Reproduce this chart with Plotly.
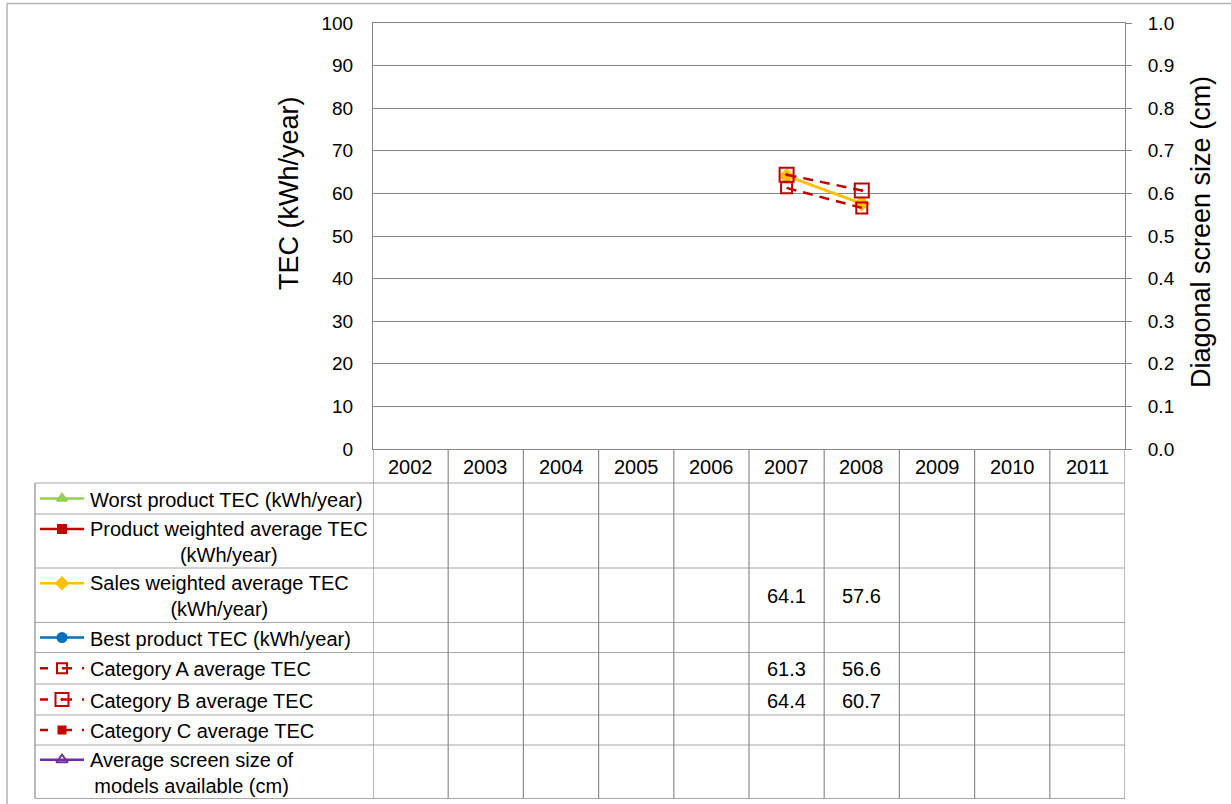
import plotly.graph_objects as go

# ---- data ----
years = [2002, 2003, 2004, 2005, 2006, 2007, 2008, 2009, 2010, 2011]
worst_tec = [None] * 10
product_avg_tec = [None] * 10
sales_avg_tec = [None, None, None, None, None, 64.1, 57.6, None, None, None]
best_tec = [None] * 10
cat_a_tec = [None, None, None, None, None, 61.3, 56.6, None, None, None]
cat_b_tec = [None, None, None, None, None, 64.4, 60.7, None, None, None]
cat_c_tec = [None] * 10
screen_size = [None] * 10

series_names = [
    "Worst product TEC (kWh/year)",
    "Product weighted average TEC<br>(kWh/year)",
    "Sales weighted average TEC<br>(kWh/year)",
    "Best product TEC (kWh/year)",
    "Category A average TEC",
    "Category B average TEC",
    "Category C average TEC",
    "Average screen size of<br>models available (cm)",
]
series_values = [worst_tec, product_avg_tec, sales_avg_tec, best_tec,
                 cat_a_tec, cat_b_tec, cat_c_tec, screen_size]
on_right_axis = [False, False, False, False, False, False, False, True]

y_title = "TEC (kWh/year)"
y2_title = "Diagonal screen size (cm)"

# ---- styling ----
W, H = 1231, 804
PL, PR, PT, PB = 373, 1125, 23, 449          # plot area in pixels
FONT = "Liberation Sans, Arial, sans-serif"
GRID = "#868686"
DARK_RED = "#C00000"
KEY_DASH = "8px,14px,10px,10px"
LINE_DASH = "10px,7px"

styles = [
    dict(color="#92D050", symbol="triangle-up", size=10, dash="solid", width=3),
    dict(color=DARK_RED, symbol="square", size=9, dash="solid", width=3),
    dict(color="#FFC000", symbol="diamond", size=10, dash="solid", width=3),
    dict(color="#0070C0", symbol="circle", size=10, dash="solid", width=3),
    dict(color=DARK_RED, symbol="square-open", size=11, dash=LINE_DASH, width=2.5),
    dict(color=DARK_RED, symbol="square-open-dot", size=14, dash=LINE_DASH, width=2.5),
    dict(color=DARK_RED, symbol="square", size=8, dash=LINE_DASH, width=2.5),
    dict(color="#7030A0", symbol="triangle-up-open", size=11, dash="solid", width=3),
]

# table rows (pixel boundaries) below the plot area
row_edges = [483, 514, 568, 622.5, 652.5, 684, 715, 745, 798.5]
two_line = [False, True, True, False, False, False, False, True]
TABLE_LEFT = 35
KEY_X0, KEY_XM, KEY_X1 = 40, 62, 84
TEXT_X = 88

fig = go.Figure()

# chart series
for name, vals, st, right in zip(series_names, series_values, styles, on_right_axis):
    fig.add_trace(go.Scatter(
        x=years, y=vals, mode="lines+markers", name=name.replace("<br>", " "),
        yaxis="y2" if right else "y", xaxis="x",
        line=dict(color=st["color"], width=st["width"], dash=st["dash"]),
        marker=dict(symbol=st["symbol"], size=st["size"], color=st["color"],
                    line=dict(color=st["color"], width=2)),
        connectgaps=False, showlegend=False, hoverinfo="x+y",
    ))

# legend keys inside the data table (pixel overlay axes)
for i, st in enumerate(styles):
    top, bot = row_edges[i], row_edges[i + 1]
    cy = (top + bot) / 2 - (12 if two_line[i] else 0)
    key_dash = KEY_DASH if st["dash"] != "solid" else "solid"
    fig.add_trace(go.Scatter(
        x=[KEY_X0, KEY_X1], y=[cy, cy], mode="lines", xaxis="x3", yaxis="y3",
        line=dict(color=st["color"], width=2.5, dash=key_dash),
        showlegend=False, hoverinfo="skip",
    ))
    fig.add_trace(go.Scatter(
        x=[KEY_XM], y=[cy], mode="markers", xaxis="x3", yaxis="y3",
        marker=dict(symbol=st["symbol"], size=st["size"] - 1, color=st["color"],
                    line=dict(color=st["color"], width=2)),
        showlegend=False, hoverinfo="skip",
    ))

shapes = []
annotations = []
TBL_H = "#A6A6A6"
TBL_V = "#8C8C8C"

# horizontal table lines
for yy in row_edges:
    shapes.append(dict(type="line", xref="x3", yref="y3", x0=TABLE_LEFT, x1=PR,
                       y0=yy, y1=yy, line=dict(color=TBL_H, width=1.2)))
# vertical table lines
shapes.append(dict(type="line", xref="x3", yref="y3", x0=TABLE_LEFT, x1=TABLE_LEFT,
                   y0=row_edges[0], y1=row_edges[-1], line=dict(color=TBL_V, width=1.2)))
for k in range(len(years) + 1):
    xb = years[0] - 0.5 + k
    shapes.append(dict(type="line", xref="x", yref="y3", x0=xb, x1=xb,
                       y0=PB, y1=row_edges[-1], line=dict(color=TBL_V, width=1.2)))
# chart frame (top / left edge)
shapes.append(dict(type="line", xref="x3", yref="y3", x0=7, x1=W, y0=3.5, y1=3.5,
                   line=dict(color="#B4B4B4", width=1.5)))
shapes.append(dict(type="line", xref="x3", yref="y3", x0=7, x1=7, y0=3.5, y1=H,
                   line=dict(color="#B4B4B4", width=1.5)))

tfont = dict(family=FONT, size=20, color="#000000")
tickfont = dict(family=FONT, size=19, color="#000000")
titlefont = dict(family=FONT, size=27, color="#000000")

# year headers
for yr in years:
    annotations.append(dict(x=yr, y=(PB + row_edges[0]) / 2 + 1, xref="x", yref="y3",
                            text=str(yr), showarrow=False, font=tfont,
                            xanchor="center", yanchor="middle"))
# series labels and values
for i, (name, vals) in enumerate(zip(series_names, series_values)):
    top, bot = row_edges[i], row_edges[i + 1]
    cy = (top + bot) / 2
    annotations.append(dict(x=TEXT_X, y=cy + 1, xref="x3", yref="y3", text=name,
                            showarrow=False, font=tfont, align="center",
                            xanchor="left", yanchor="middle"))
    for yr, v in zip(years, vals):
        if v is not None:
            annotations.append(dict(x=yr, y=cy + 1, xref="x", yref="y3",
                                    text=f"{v:.1f}", showarrow=False, font=tfont,
                                    xanchor="center", yanchor="middle"))

# axis titles
annotations.append(dict(x=289, y=193, xref="x3", yref="y3", text=y_title,
                        textangle=-90, showarrow=False, font=titlefont))
annotations.append(dict(x=1201, y=232, xref="x3", yref="y3", text=y2_title,
                        textangle=-90, showarrow=False, font=titlefont))

fig.update_layout(
    width=W, height=H, autosize=False,
    margin=dict(l=0, r=0, t=0, b=0, pad=0, autoexpand=False),
    paper_bgcolor="white", plot_bgcolor="rgba(0,0,0,0)",
    font=dict(family=FONT, size=19, color="#000000"),
    showlegend=False,
    xaxis=dict(domain=[PL / W, PR / W], range=[years[0] - 0.5, years[-1] + 0.5],
               showticklabels=False, ticks="", showgrid=False, zeroline=False,
               showline=True, linecolor=GRID, linewidth=1, mirror=True,
               anchor="y", fixedrange=True, automargin=False),
    yaxis=dict(domain=[1 - PB / H, 1 - PT / H], range=[0, 100], dtick=10,
               showgrid=True, gridcolor=GRID, gridwidth=1, zeroline=False,
               showline=True, linecolor=GRID, linewidth=1, ticks="",
               ticklabelstandoff=15, tickfont=tickfont, anchor="x",
               fixedrange=True, automargin=False),
    yaxis2=dict(overlaying="y", side="right", range=[0, 1], dtick=0.1,
                tickformat=".1f", showgrid=False, zeroline=False,
                showline=True, linecolor=GRID, linewidth=1,
                ticks="outside", ticklen=6, tickcolor=GRID,
                ticklabelstandoff=12, tickfont=tickfont, anchor="x",
                fixedrange=True, automargin=False),
    xaxis3=dict(domain=[0, 1], range=[0, W], visible=False, anchor="y3",
                fixedrange=True, automargin=False),
    yaxis3=dict(domain=[0, 1], range=[H, 0], visible=False, anchor="x3",
                fixedrange=True, automargin=False),
    shapes=shapes,
    annotations=annotations,
)

page_reset = ("document.documentElement.style.margin='0';"
              "document.body.style.margin='0';document.body.style.padding='0';"
              "document.body.style.overflow='hidden';")

fig.write_html("out.html", config={"responsive": False, "displayModeBar": False},
               post_script=page_reset)
